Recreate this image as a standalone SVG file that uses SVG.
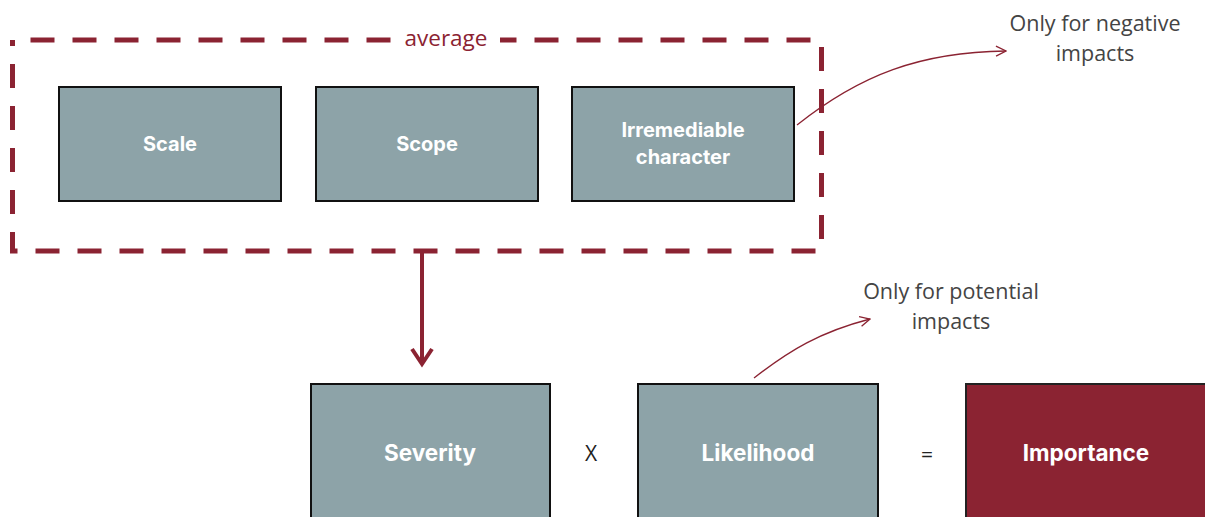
<svg xmlns="http://www.w3.org/2000/svg" width="1205" height="517" viewBox="0 0 1205 517">
  <defs>
    <style>
      .box { fill: #8da3a8; stroke: #111; stroke-width: 2; }
      .imp { fill: #8b2332; stroke: #222; stroke-width: 2; }
      .lbl { font-family: Inter, "Open Sans", "Liberation Sans", sans-serif; font-weight: 700; font-size: 20px; fill: #ffffff; text-anchor: middle; }
      .big { font-size: 22.5px; }
      .note { font-family: "Open Sans", "Liberation Sans", sans-serif; font-size: 21.5px; fill: #444; text-anchor: middle; }
      .op { font-family: "Open Sans", "Liberation Sans", sans-serif; font-size: 21px; fill: #222; text-anchor: middle; }
      .thin { fill: none; stroke: #8b2332; stroke-width: 1.3; }
    </style>
    <marker id="openHead" viewBox="0 0 12 12" refX="11" refY="6" markerWidth="12" markerHeight="12" markerUnits="userSpaceOnUse" orient="auto">
      <path d="M1,1 L11,6 L1,11" fill="none" stroke="#8b2332" stroke-width="1.3"/>
    </marker>
  </defs>

  <!-- averaging frame -->
  <g id="average-frame">
    <rect x="12.5" y="40" width="809" height="211" fill="none" stroke="#8b2332" stroke-width="5" stroke-dasharray="24 18" stroke-dashoffset="-18"/>
    <rect x="392" y="26" width="108" height="28" fill="#ffffff"/>
    <text x="446" y="46" font-family="Open Sans, Liberation Sans, sans-serif" font-size="22.5" fill="#8b2332" text-anchor="middle">average</text>
  </g>

  <g id="scale">
    <rect class="box" x="59" y="87" width="222" height="114"/>
    <text class="lbl" x="170" y="151">Scale</text>
  </g>
  <g id="scope">
    <rect class="box" x="316" y="87" width="222" height="114"/>
    <text class="lbl" x="427" y="151">Scope</text>
  </g>
  <g id="irremediable">
    <rect class="box" x="572" y="87" width="222" height="114"/>
    <text class="lbl" x="683" y="137">Irremediable</text>
    <text class="lbl" x="683" y="164">character</text>
  </g>

  <g id="severity">
    <rect class="box" x="311" y="384" width="239" height="140"/>
    <text class="lbl big" x="430" y="461">Severity</text>
  </g>
  <g id="likelihood">
    <rect class="box" x="638" y="384" width="240" height="140"/>
    <text class="lbl big" x="758" y="461">Likelihood</text>
  </g>
  <g id="importance">
    <rect class="imp" x="966" y="384" width="245" height="140"/>
    <text class="lbl big" x="1086" y="461">Importance</text>
  </g>

  <g id="operators">
    <text class="op" x="591" y="461">X</text>
    <text class="op" x="927" y="462">=</text>
  </g>

  <g id="notes">
    <text class="note" x="1095" y="31">Only for negative</text>
    <text class="note" x="1095" y="61">impacts</text>
    <text class="note" x="951" y="299">Only for potential</text>
    <text class="note" x="951" y="329">impacts</text>
  </g>

  <g id="connectors">
    <line x1="422" y1="253" x2="422" y2="364" stroke="#8b2332" stroke-width="4"/>
    <path d="M412,349 L422,364 L432,349" fill="none" stroke="#8b2332" stroke-width="4"/>
    <path class="thin" d="M797,125 C860,75 920,52 1006,51" marker-end="url(#openHead)"/>
    <path class="thin" d="M754,378 C790,350 820,332 870,319" marker-end="url(#openHead)"/>
  </g>
</svg>
